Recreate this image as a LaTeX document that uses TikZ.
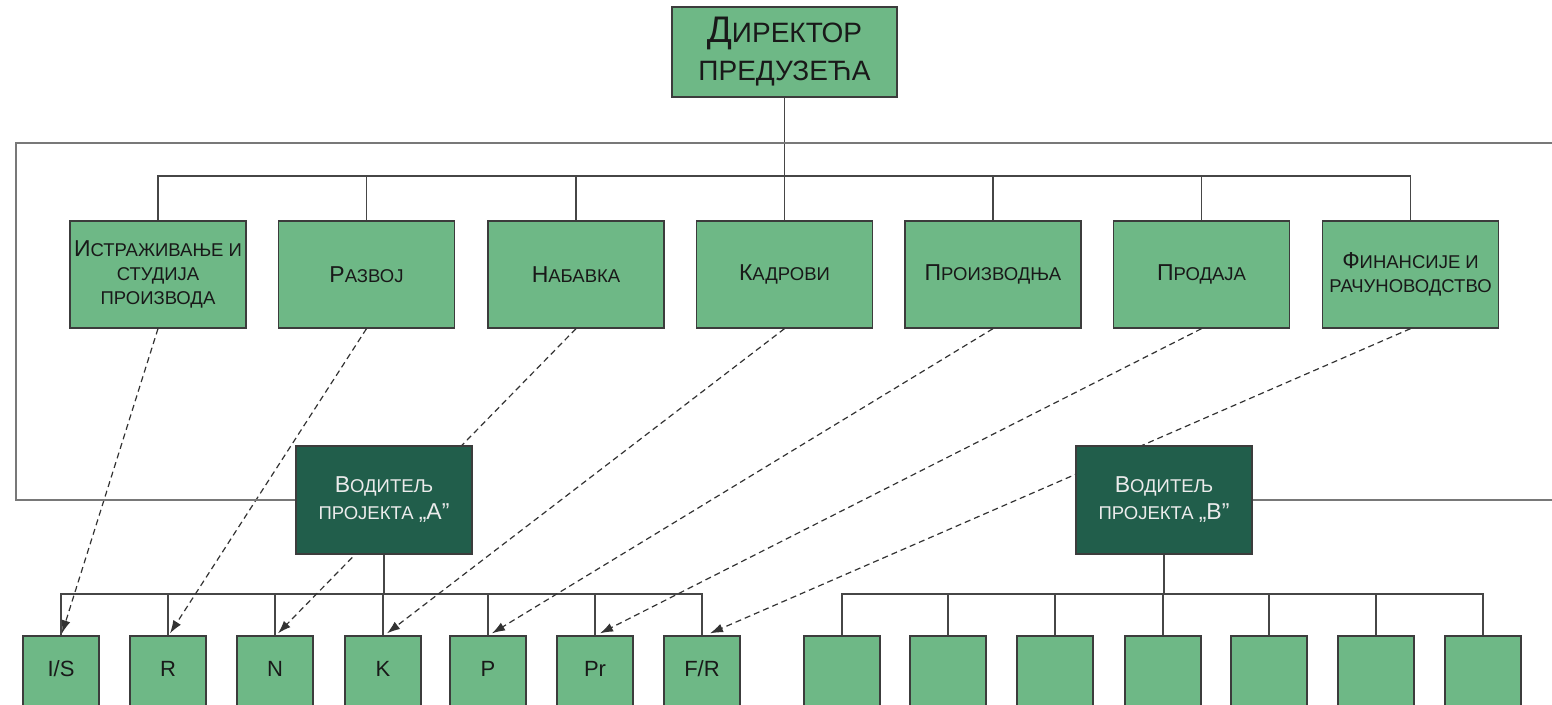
\documentclass[tikz,border=0pt]{standalone}
\usepackage{fontspec}
\setmainfont{Liberation Sans}
\usetikzlibrary{arrows.meta,calc}
\definecolor{lg}{RGB}{110,184,134}
\definecolor{dg}{RGB}{33,94,75}
\definecolor{bd}{RGB}{60,60,60}
\definecolor{ln}{RGB}{70,70,70}
\definecolor{fr}{RGB}{120,120,120}
\definecolor{tx}{RGB}{25,25,25}
\newcommand\BigL[1]{{\fontsize{23}{28}\selectfont #1}}
\newcommand\BigD[1]{{\fontsize{37}{40}\selectfont #1}}
\begin{document}
\begin{tikzpicture}[x=1pt,y=-1pt,
 box/.style={draw=bd,line width=1.3pt,fill=lg,inner sep=0pt,align=center,text=tx},
 dept/.style={box,minimum width=176pt,minimum height=107pt,font=\fontsize{18.5}{24}\selectfont},
 lead/.style={box,fill=dg,text=white!92!black,minimum width=176pt,minimum height=108pt,font=\fontsize{18.5}{27}\selectfont},
 unit/.style={box,minimum width=76pt,minimum height=90pt,font=\fontsize{22}{26}\selectfont,text height=16pt,text depth=26pt},
 conn/.style={draw=ln,line width=1.3pt},
 framel/.style={draw=fr,line width=2pt},
 dep/.style={draw=black!80,line width=1.2pt,dash pattern=on 6pt off 4pt,-{Latex[length=13pt,width=9pt]}}
]
\clip (0,0) rectangle (1552,704);
\fill[white] (0,0) rectangle (1552,704);

% top
\node[box,minimum width=225pt,minimum height=90pt,font=\fontsize{28}{38}\selectfont] (dir) at (784.5,52) {\BigD{Д}ИРЕКТОР\\ПРЕДУЗЕЋА};

% departments
\node[dept] (d1) at (158,274.5) {\BigL{И}СТРАЖИВАЊЕ И\\СТУДИЈА\\ПРОИЗВОДА};
\node[dept] (d2) at (366.5,274.5) {\BigL{Р}АЗВОЈ};
\node[dept] (d3) at (576,274.5) {\BigL{Н}АБАВКА};
\node[dept] (d4) at (784.5,274.5) {\BigL{К}АДРОВИ};
\node[dept] (d5) at (993,274.5) {\BigL{П}РОИЗВОДЊА};
\node[dept] (d6) at (1201.5,274.5) {\BigL{П}РОДАЈА};
\node[dept] (d7) at (1410.5,274.5) {\BigL{Ф}ИНАНСИЈЕ И\\РАЧУНОВОДСТВО};

% units A
\node[unit] (a1) at (61,681) {I/S};
\node[unit] (a2) at (168,681) {R};
\node[unit] (a3) at (275,681) {N};
\node[unit] (a4) at (383,681) {K};
\node[unit] (a5) at (488,681) {P};
\node[unit] (a6) at (595,681) {Pr};
\node[unit] (a7) at (702,681) {F/R};

% units B
\node[unit] (b1) at (842,681) {};
\node[unit] (b2) at (948,681) {};
\node[unit] (b3) at (1055,681) {};
\node[unit] (b4) at (1163,681) {};
\node[unit] (b5) at (1269,681) {};
\node[unit] (b6) at (1376,681) {};
\node[unit] (b7) at (1483,681) {};

% bus lines
\coordinate (bt) at (0,176);
\coordinate (ba) at (0,594);
\draw[conn] (dir.south) -- (dir.south |- bt);
\draw[conn] (d1.north) -- (d1.north |- bt) -| (d7.north);
\foreach \n in {d2,d3,d4,d5,d6} \draw[conn] (\n.north) -- (\n.north |- bt);
\draw[conn] (a1.north) -- (a1.north |- ba) -| (a7.north);
\foreach \n in {a2,a3,a4,a5,a6} \draw[conn] (\n.north) -- (\n.north |- ba);
\draw[conn] (b1.north) -- (b1.north |- ba) -| (b7.north);
\foreach \n in {b2,b3,b4,b5,b6} \draw[conn] (\n.north) -- (\n.north |- ba);

% dashed assignments
\draw[dep] (d1.south) -- ($(a1.north)+(1,-2)$);
\draw[dep] (d2.south) -- ($(a2.north)+(2,-2)$);
\draw[dep] (d3.south) -- ($(a3.north)+(3,-2)$);
\draw[dep] (d4.south) -- ($(a4.north)+(4,-2)$);
\draw[dep] (d5.south) -- ($(a5.north)+(4,-2)$);
\draw[dep] (d6.south) -- ($(a6.north)+(5,-2)$);
\draw[dep] (d7.south) -- ($(a7.north)+(8,-2)$);

% project leaders
\node[lead] (va) at (384,500) {\BigL{В}ОДИТЕЉ\\ПРОЈЕКТА \BigL{„А”}};
\node[lead] (vb) at (1164,500) {\BigL{В}ОДИТЕЉ\\ПРОЈЕКТА \BigL{„В”}};
\draw[conn] (va.south) -- (va.south |- ba);
\draw[conn] (vb.south) -- (vb.south |- ba);

% frame
\coordinate (frTR) at (1560,143);
\coordinate (frTL) at (16,143);
\coordinate (frBR) at (1560,500);
\draw[framel] (frTR) -- (frTL) |- (va.west);
\draw[framel] (vb.east) -- (frBR);
\end{tikzpicture}
\end{document}
